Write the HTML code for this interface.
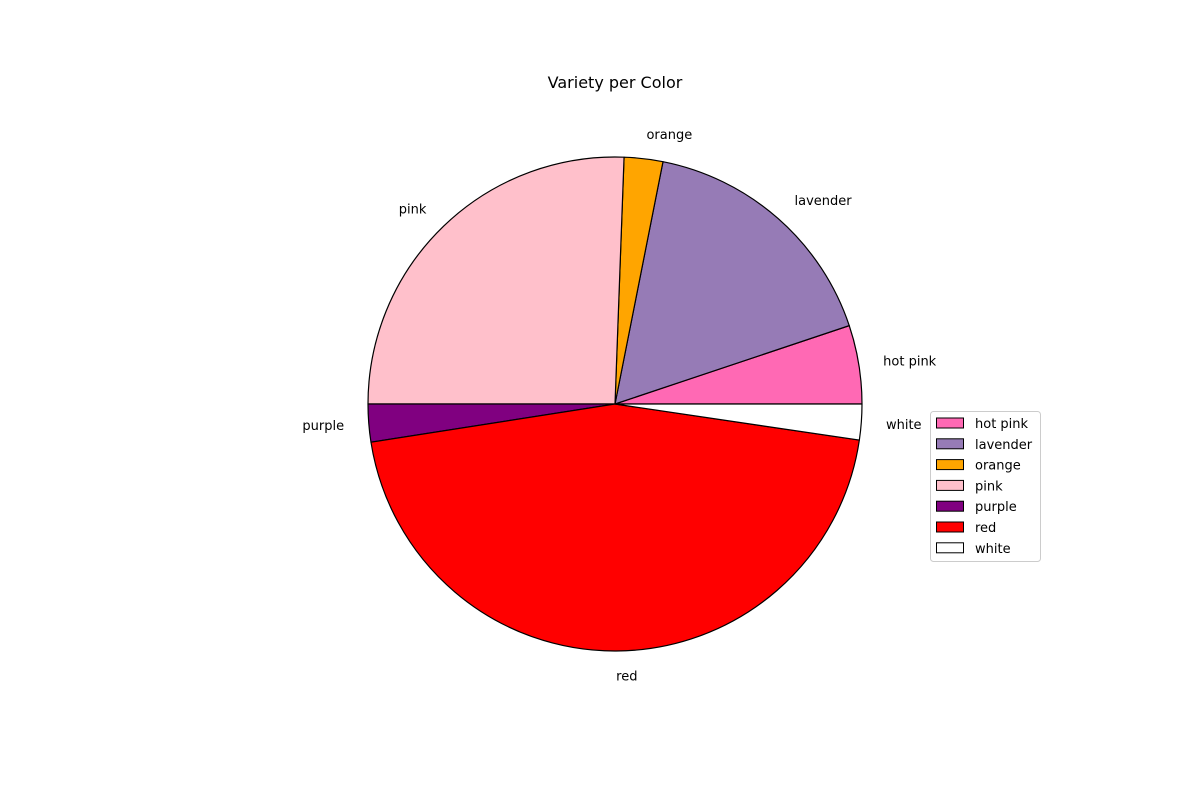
<!DOCTYPE html>
<html><head><meta charset="utf-8"><style>
body{margin:0;background:#fff}
svg text{font-family:"DejaVu Sans","Liberation Sans",sans-serif;}
</style></head><body>
<svg id="chart" width="1200" height="800" viewBox="0 0 1200 800" xmlns="http://www.w3.org/2000/svg">
<rect width="1200" height="800" fill="#fff"/>
<text x="615" y="88" font-size="16" text-anchor="middle">Variety per Color</text>
<g id="slices"></g>
<g id="labels"></g>
<g id="legend"></g>
</svg>
<script>
const categories = ["hot pink","lavender","orange","pink","purple","red","white"];
const values = [18.5,60.3,9.1,92.1,8.9,162.7,8.4];
const colors = ["#ff69b4","#967bb6","#ffa500","#ffc0cb","#800080","#ff0000","#ffffff"];
const NS="http://www.w3.org/2000/svg";
const cx=615, cy=404, R=247;
const total=values.reduce((a,b)=>a+b,0);
const sl=document.getElementById('slices'), lb=document.getElementById('labels'), lg=document.getElementById('legend');
function pt(a,r){return [cx+r*Math.cos(a), cy-r*Math.sin(a)];}
let start=0;
values.forEach((v,i)=>{
  const sweep=v/total*2*Math.PI, end=start+sweep;
  const [x1,y1]=pt(start,R),[x2,y2]=pt(end,R);
  const p=document.createElementNS(NS,'path');
  p.setAttribute('d',`M${cx},${cy} L${x1},${y1} A${R},${R} 0 ${sweep>Math.PI?1:0} 0 ${x2},${y2} Z`);
  p.setAttribute('fill',colors[i]);p.setAttribute('stroke','#000');p.setAttribute('stroke-width','1.2');p.setAttribute('stroke-linejoin','round');
  
  
  sl.appendChild(p);
  const mid=(start+end)/2; const [lx,ly]=pt(mid,R*1.1);
  const t=document.createElementNS(NS,'text');
  t.setAttribute('x',lx);t.setAttribute('y',ly+5);t.setAttribute('font-size','13');
  t.setAttribute('text-anchor',Math.cos(mid)>=0?'start':'end');
  t.textContent=categories[i];
  
  
  lb.appendChild(t);
  start=end;
});
const box=document.createElementNS(NS,'rect');
box.setAttribute('x',930.5);box.setAttribute('y',411.5);box.setAttribute('width',110);box.setAttribute('height',150);box.setAttribute('rx',3);
box.setAttribute('fill','#fff');box.setAttribute('stroke','#ccc');


lg.appendChild(box);
categories.forEach((c,i)=>{
  const y=418+i*20.8;
  const r=document.createElementNS(NS,'rect');
  r.setAttribute('x',936.5);r.setAttribute('y',y);r.setAttribute('width',27);r.setAttribute('height',10);
  r.setAttribute('fill',colors[i]);r.setAttribute('stroke','#000');
  
  
  lg.appendChild(r);
  const t=document.createElementNS(NS,'text');
  t.setAttribute('x',975);t.setAttribute('y',y+10);t.setAttribute('font-size','13');t.textContent=c;
  
  
  lg.appendChild(t);
});
</script>
</body></html>
